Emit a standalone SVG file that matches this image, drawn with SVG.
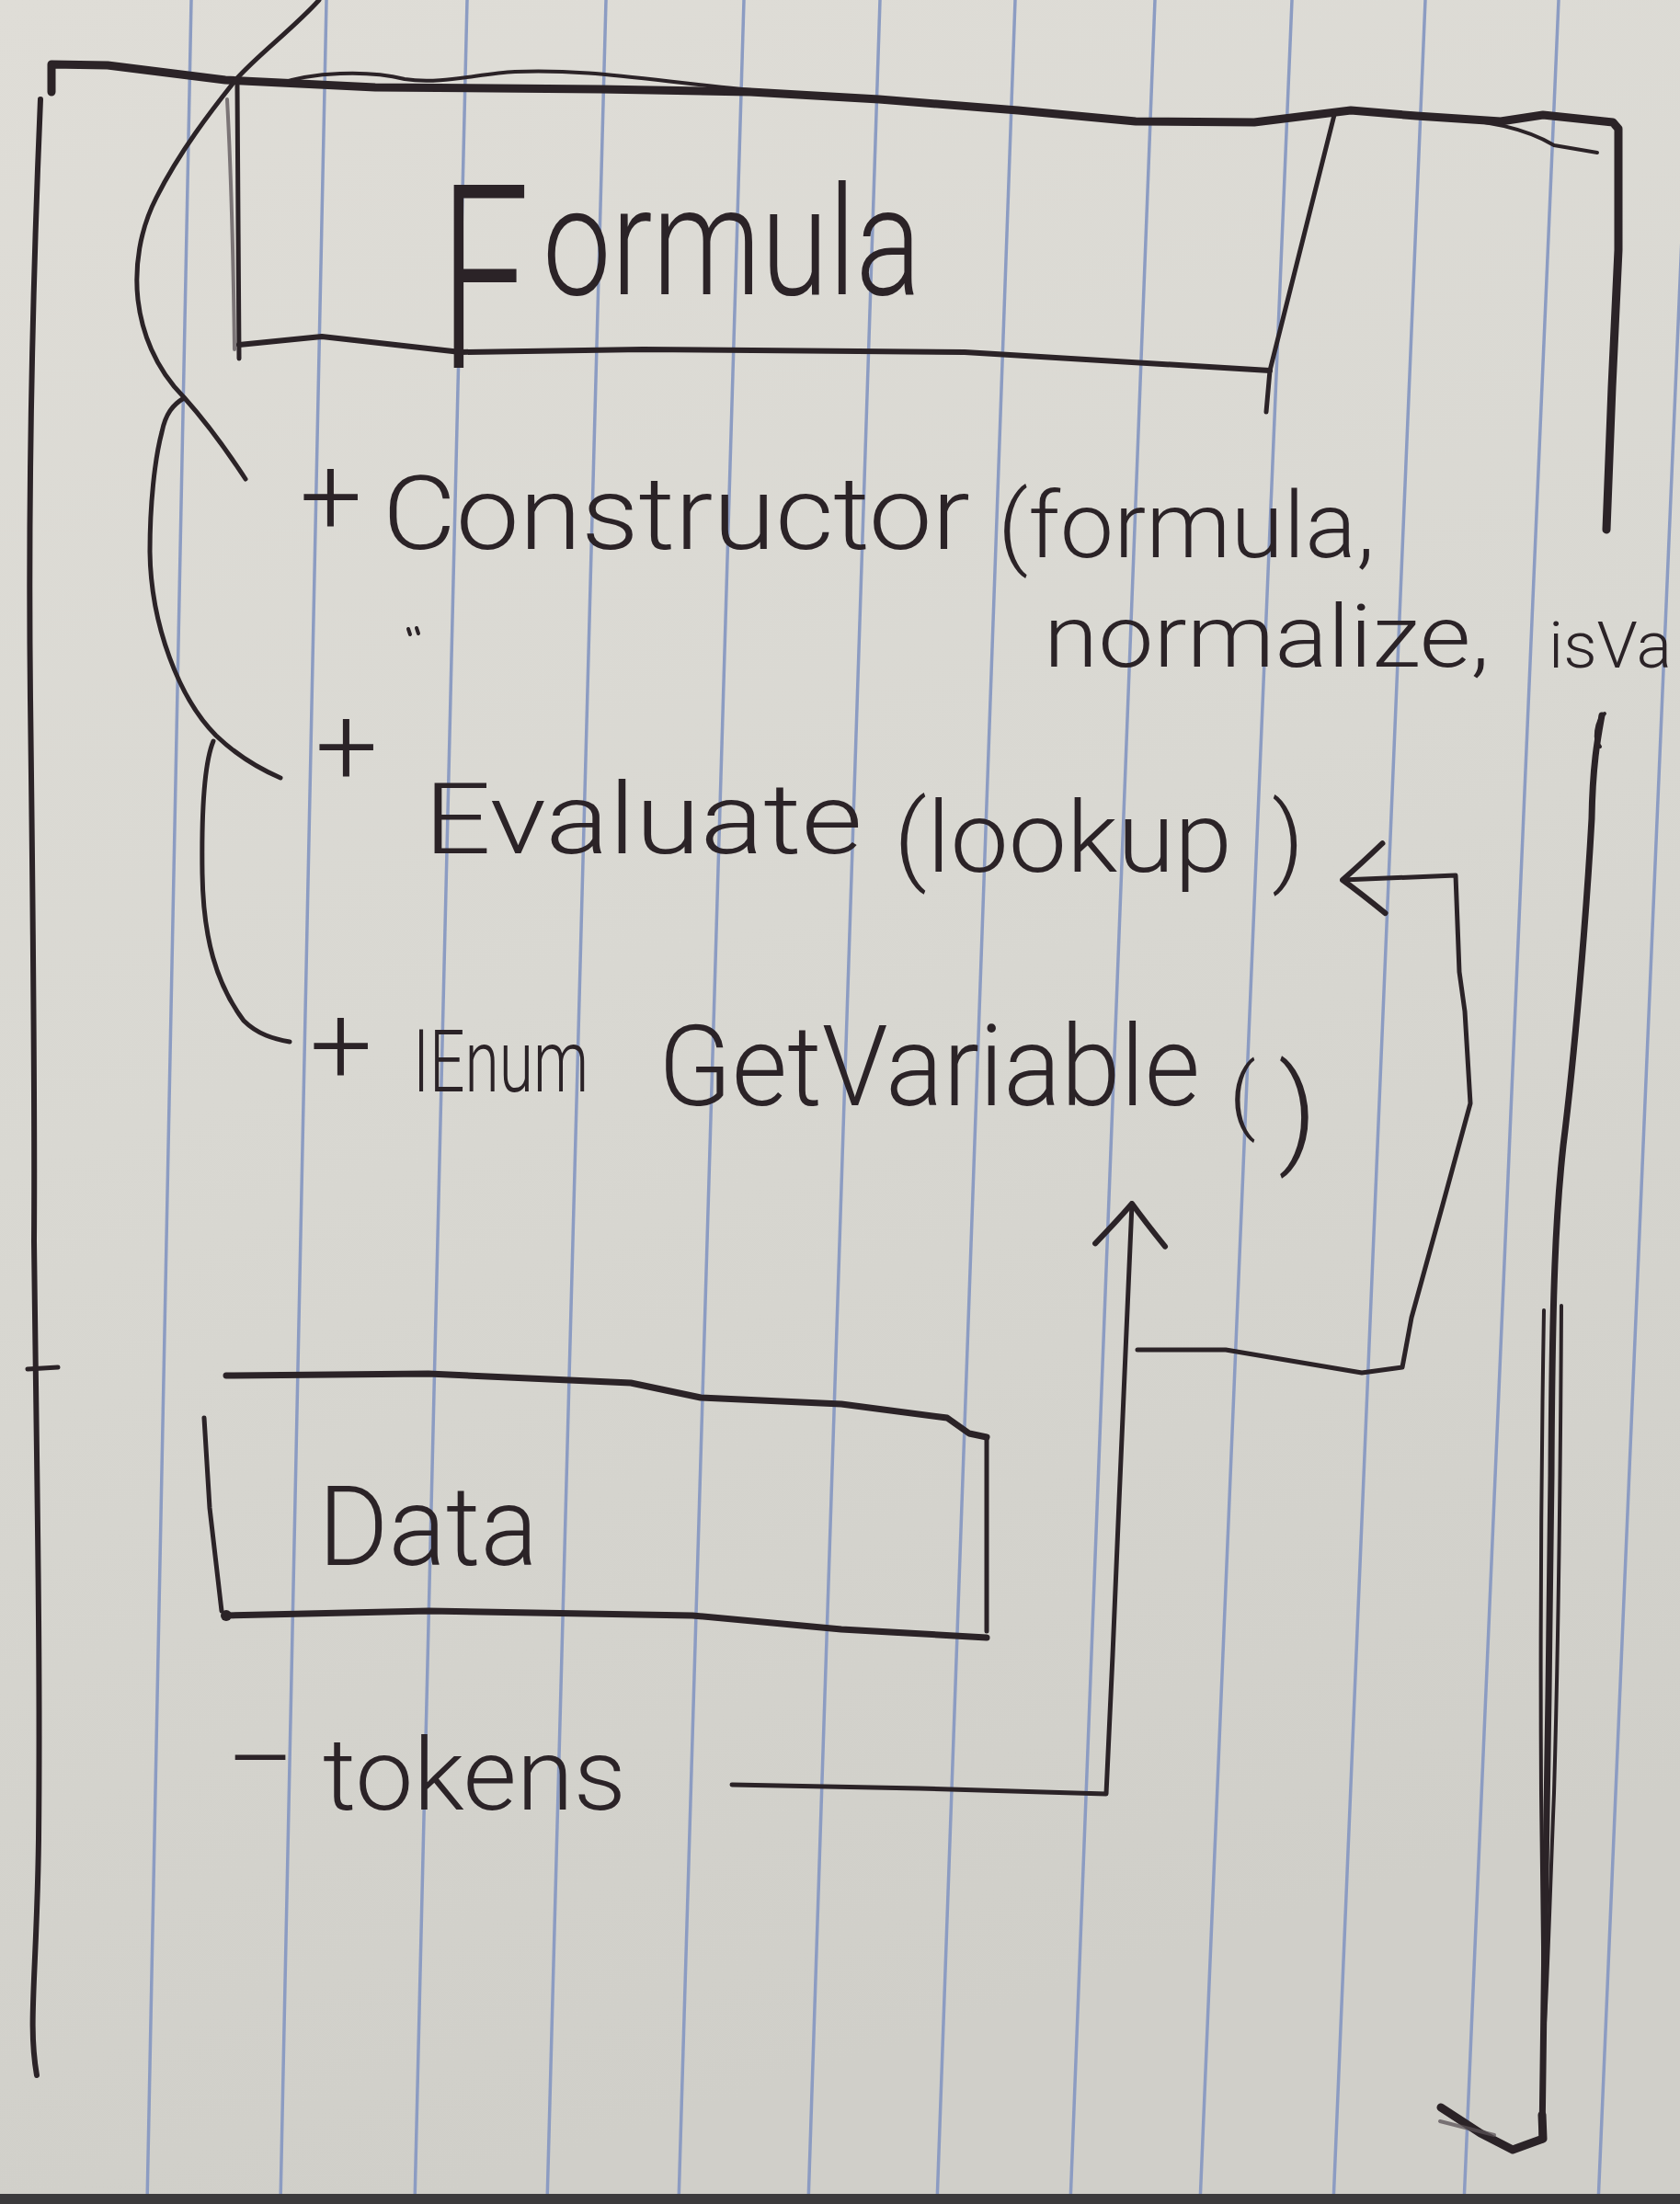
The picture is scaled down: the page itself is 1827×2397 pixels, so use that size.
<svg xmlns="http://www.w3.org/2000/svg" width="1827" height="2397" viewBox="0 0 1827 2397">
<defs>
<linearGradient id="paper" x1="0" y1="0" x2="0.25" y2="1">
<stop offset="0" stop-color="#dfddd7"/>
<stop offset="0.5" stop-color="#d9d8d2"/>
<stop offset="1" stop-color="#d0cfc9"/>
</linearGradient>
<marker id="openArrow" viewBox="0 0 52 86" refX="49" refY="43" markerWidth="52" markerHeight="86" markerUnits="userSpaceOnUse" orient="auto">
<path d="M4,5 Q30,28 49,43 Q30,58 4,81" fill="none" stroke="#2b2327" stroke-width="6" stroke-linecap="round" stroke-linejoin="round"/>
</marker>
<style>
.rule{stroke:#8c9cc2;stroke-width:3.5;fill:none}
.pen{fill:none;stroke:#2b2327;stroke-linecap:round;stroke-linejoin:round}
.w9{stroke-width:9}
.w7{stroke-width:7}
.w6{stroke-width:6}
.w5{stroke-width:5}
.w4{stroke-width:4}
.faint{fill:none;stroke:#5a5256;stroke-width:4;stroke-linecap:round;stroke-linejoin:round;opacity:0.75}
.hand{font-family:"Roboto","Liberation Sans",sans-serif;font-weight:300;fill:#2b2327}
</style>
</defs>

<g id="paper-sheet">
<rect x="0" y="0" width="1827" height="2397" fill="url(#paper)"/>
<line class="rule" x1="208" y1="0" x2="160" y2="2397"/>
<line class="rule" x1="355" y1="0" x2="305" y2="2397"/>
<line class="rule" x1="508" y1="0" x2="451" y2="2397"/>
<line class="rule" x1="659" y1="0" x2="595" y2="2397"/>
<line class="rule" x1="809" y1="0" x2="738" y2="2397"/>
<line class="rule" x1="957" y1="0" x2="879" y2="2397"/>
<line class="rule" x1="1104" y1="0" x2="1019" y2="2397"/>
<line class="rule" x1="1256" y1="0" x2="1164" y2="2397"/>
<line class="rule" x1="1405" y1="0" x2="1305" y2="2397"/>
<line class="rule" x1="1550" y1="0" x2="1450" y2="2397"/>
<line class="rule" x1="1695" y1="0" x2="1592" y2="2397"/>
<line class="rule" x1="1840" y1="0" x2="1738" y2="2397"/>
<rect x="0" y="2386" width="1827" height="11" fill="#3b3a3c"/>
</g>

<g id="node-formula">
<!-- class frame: top edge, right and left sides -->
<path class="pen w9" d="M56,100 L56,70 L117,71 L245,87 L408,95 L653,97 L816,100 L956,108 L1107,120 L1235,132 L1364,133 L1469,120 L1540,126 L1632,132 L1678,125 L1754,133 L1760,140 L1760,272 L1753,421 L1747,576"/>
<path class="pen w4" d="M300,92 C340,78 400,76 440,86 C480,92 520,80 560,78 C640,74 720,90 840,100"/>
<path class="pen w4" d="M1560,128 C1620,130 1660,140 1690,158 L1737,166"/>
<path class="pen w6" d="M44,108 C38,250 30,500 33,760 C36,1000 38,1200 37,1350 C40,1600 44,1800 42,2000 C40,2150 30,2200 40,2257"/>
<path class="pen w5" d="M30,1489 L63,1487"/>
<!-- header box -->
<path class="pen w5" d="M258,92 C259,200 260,300 260,390"/>
<path class="faint" d="M247,108 C252,200 254,300 255,380"/>
<path class="pen w6" d="M260,375 L350,366 L501,383 L699,380 L1049,383 L1282,397 L1381,403"/>
<path class="pen w5" d="M1451,125 L1381,403 L1377,448"/>
<text class="hand" transform="translate(478,400) scale(0.62,1)" font-size="280">F</text>
<text class="hand" x="590" y="320" font-size="165" textLength="412" lengthAdjust="spacingAndGlyphs">ormula</text>
<!-- members -->
<text class="hand" x="326" y="581" font-size="120">+</text>
<text class="hand" x="416" y="597" font-size="112" textLength="639" lengthAdjust="spacingAndGlyphs">Constructor</text>
<text class="hand" x="1085" y="606" font-size="100" textLength="410" lengthAdjust="spacingAndGlyphs">(formula,</text>
<text class="hand" x="1135" y="725" font-size="94" textLength="485" lengthAdjust="spacingAndGlyphs">normalize,</text>
<text class="hand" x="1684" y="726" font-size="70" textLength="134" lengthAdjust="spacingAndGlyphs">isVa</text>
<text class="hand" x="343" y="853" font-size="120">+</text>
<text class="hand" x="461" y="928" font-size="108" textLength="477" lengthAdjust="spacingAndGlyphs">Evaluate</text>
<text class="hand" x="972" y="948" font-size="108" textLength="368" lengthAdjust="spacingAndGlyphs">(lookup</text>
<text class="hand" x="1383" y="950" font-size="108">)</text>
<text class="hand" x="337" y="1178" font-size="120">+</text>
<text class="hand" x="449" y="1187" font-size="95" textLength="191" lengthAdjust="spacingAndGlyphs">IEnum</text>
<text class="hand" x="716" y="1202" font-size="122" textLength="589" lengthAdjust="spacingAndGlyphs">GetVariable</text>
<text class="hand" x="1337" y="1222" font-size="90">(</text>
<text class="hand" x="1390" y="1252" font-size="130">)</text>
</g>

<g id="brackets">
<path class="pen w5" d="M347,0 C320,30 280,60 257,86 C230,120 195,165 170,215 C152,250 146,290 150,326 C154,360 168,400 200,432 C225,460 250,495 267,521"/>
<path class="pen w5" d="M200,433 C188,440 180,450 176,470 C168,500 163,550 163,600 C164,680 195,760 235,800 C258,822 282,836 305,846"/>
<path class="pen w5" d="M232,806 C222,830 219,880 220,950 C221,1020 235,1070 265,1110 C280,1125 298,1130 315,1133"/>
</g>

<g id="node-data">
<path class="pen w7" d="M246,1496 L466,1494 L686,1504 L762,1520 L915,1527 L1030,1542 L1054,1559 L1073,1563"/>
<path class="pen w5" d="M222,1542 L228,1640 L241,1752"/>
<path class="pen w5" d="M1073,1563 L1073,1774"/>
<path class="pen w7" d="M246,1757 L466,1752 L753,1757 L915,1772 L1073,1781"/>
<circle cx="246" cy="1757" r="6" fill="#2b2327"/>
<text class="hand" x="346" y="1702" font-size="120" textLength="239" lengthAdjust="spacingAndGlyphs">Data</text>
<text class="hand" x="250" y="1946" font-size="110" textLength="67" lengthAdjust="spacingAndGlyphs">-</text>
<text class="hand" x="351" y="1968" font-size="110" textLength="330" lengthAdjust="spacingAndGlyphs">tokens</text>
</g>

<g id="connectors">
<path id="tokens-to-getvariable" class="pen w5" d="M796,1941 L1000,1945 L1203,1951 L1210,1800 L1217,1633 L1231,1309" marker-end="url(#openArrow)"/>
<path id="to-evaluate" class="pen w5" d="M1237,1468 L1333,1468 L1481,1493 L1525,1487 L1535,1433 L1569,1310 L1599,1200 L1593,1100 L1587,1057 L1583,952 L1460,957" marker-end="url(#openArrow)"/>
<path id="side-line" class="pen w7" d="M1742,778 C1738,800 1732,830 1731,890 C1725,1000 1712,1150 1700,1246 C1692,1320 1688,1400 1687,1604 C1685,1800 1683,1900 1680,2100 L1677,2327"/>
<path class="pen w4" d="M1745,776 C1735,785 1733,805 1740,812"/>
<path class="pen w4" d="M1698,1420 C1697,1600 1695,1780 1690,1950 C1686,2050 1683,2150 1680,2200"/>
<path class="pen w4" d="M1679,1425 C1676,1600 1675,1780 1676,1950 C1677,2050 1678,2150 1679,2200"/>
<path class="pen w9" d="M1677,2300 L1678,2326 L1645,2338 L1610,2320 L1567,2292"/>
<path class="faint" d="M1566,2307 L1625,2322"/>
</g>

<g id="marks">
<path class="pen w4" d="M444,684 L446,690 M453,683 L455,689"/>
</g>
</svg>
